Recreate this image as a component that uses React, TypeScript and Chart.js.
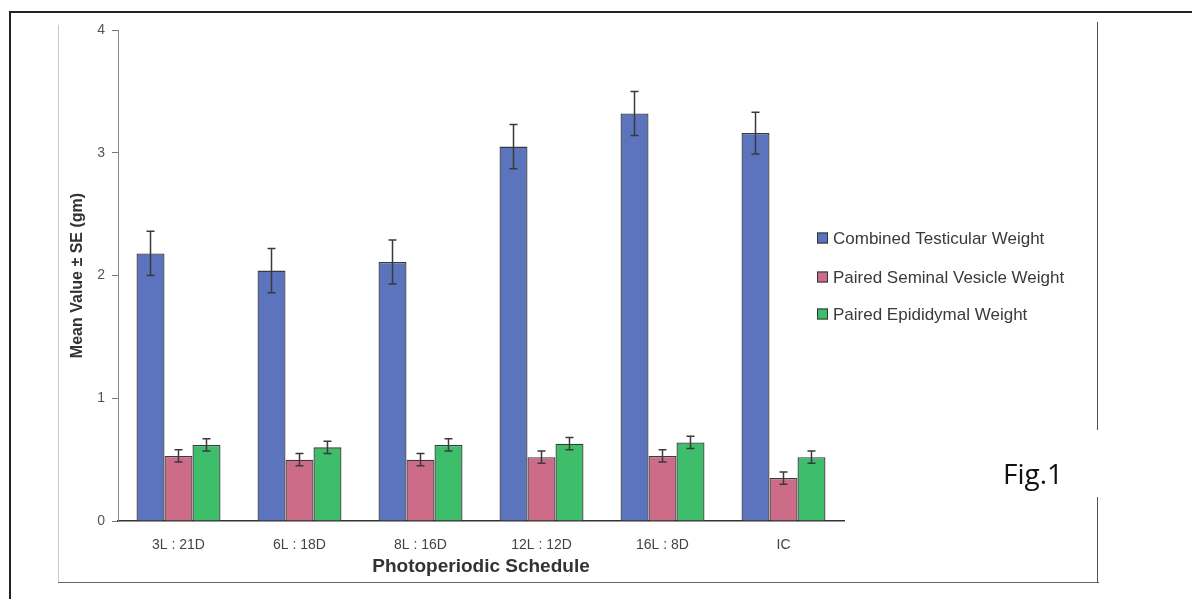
import React, { useEffect, useRef } from "react";
import { Chart, registerables } from "chart.js";

Chart.register(...registerables);

// Photoperiod regimes (hours light : hours dark) and intact controls
const schedules = ["3L : 21D", "6L : 18D", "8L : 16D", "12L : 12D", "16L : 8D", "IC"];

// Mean organ weights (gm) and their standard errors
const testicularWeight = [2.18, 2.04, 2.11, 3.05, 3.32, 3.16];
const testicularSE = [0.18, 0.18, 0.18, 0.18, 0.18, 0.17];
const seminalVesicleWeight = [0.53, 0.5, 0.5, 0.52, 0.53, 0.35];
const seminalVesicleSE = [0.05, 0.05, 0.05, 0.05, 0.05, 0.05];
const epididymalWeight = [0.62, 0.6, 0.62, 0.63, 0.64, 0.52];
const epididymalSE = [0.05, 0.05, 0.05, 0.05, 0.05, 0.05];

const yTicks = [0, 1, 2, 3, 4];

const seriesNames = [
  "Combined Testicular Weight",
  "Paired Seminal Vesicle Weight",
  "Paired Epididymal Weight",
];
const seriesColors = ["#5b74bd", "#cd6c89", "#3ebd6b"];
const seriesErrors = [testicularSE, seminalVesicleSE, epididymalSE];

const SANS = '"Liberation Sans", Arial, sans-serif';

// Draws ± SE whiskers on every bar, positioned through the y scale
const errorBarPlugin = {
  id: "errorBars",
  afterDatasetsDraw(chart: any) {
    const { ctx } = chart;
    const yScale = chart.scales.y;
    ctx.save();
    ctx.strokeStyle = "#3a3a3a";
    ctx.lineWidth = 1.5;
    chart.data.datasets.forEach((ds: any, di: number) => {
      const meta = chart.getDatasetMeta(di);
      const errs = seriesErrors[di];
      meta.data.forEach((bar: any, i: number) => {
        const v = ds.data[i];
        const e = errs[i];
        const yTop = yScale.getPixelForValue(v + e);
        const yBot = yScale.getPixelForValue(v - e);
        const x = bar.x;
        const cap = 4;
        ctx.beginPath();
        ctx.moveTo(x, yTop);
        ctx.lineTo(x, yBot);
        ctx.moveTo(x - cap, yTop);
        ctx.lineTo(x + cap, yTop);
        ctx.moveTo(x - cap, yBot);
        ctx.lineTo(x + cap, yBot);
        ctx.stroke();
      });
    });
    ctx.restore();
  },
};

// Legend block to the right of the bars
const sideLegendPlugin = {
  id: "sideLegend",
  afterDraw(chart: any) {
    const { ctx } = chart;
    const rows = [238, 277, 314];
    ctx.save();
    ctx.font = `17px ${SANS}`;
    ctx.textBaseline = "middle";
    ctx.textAlign = "left";
    chart.data.datasets.forEach((ds: any, i: number) => {
      const y = rows[i];
      ctx.fillStyle = ds.backgroundColor;
      ctx.fillRect(817, y - 5.5, 11, 11);
      ctx.strokeStyle = "#333";
      ctx.lineWidth = 1;
      ctx.strokeRect(817.5, y - 5, 10, 10);
      ctx.fillStyle = "#3a3a3a";
      ctx.fillText(ds.label, 833, y + 1);
    });
    ctx.restore();
  },
};

export default function App() {
  const canvasRef = useRef<HTMLCanvasElement | null>(null);

  useEffect(() => {
    if (!canvasRef.current) return;
    const chart = new Chart(canvasRef.current, {
      type: "bar",
      data: {
        labels: schedules,
        datasets: [testicularWeight, seminalVesicleWeight, epididymalWeight].map((d, i) => ({
          label: seriesNames[i],
          data: d,
          backgroundColor: seriesColors[i],
          borderColor: "#3a3a3a",
          borderWidth: 1.3,
          categoryPercentage: 0.694,
          barPercentage: 1.0,
        })),
      },
      options: {
        responsive: false,
        animation: false,
        layout: { padding: { left: 60, right: 348, top: 30, bottom: 20 } },
        plugins: {
          legend: { display: false },
          tooltip: { enabled: false },
        },
        scales: {
          x: {
            afterFit(scale: any) {
              scale.height = 58;
            },
            grid: { display: false, drawTicks: false },
            border: { display: true, color: "#333", width: 1.5 },
            ticks: {
              padding: 16,
              color: "#444",
              font: { family: SANS, size: 14 },
            },
            title: {
              display: true,
              text: "Photoperiodic Schedule",
              color: "#333",
              font: { family: SANS, size: 19, weight: "bold" },
              padding: { top: 0, bottom: 1 },
            },
          },
          y: {
            min: yTicks[0],
            max: yTicks[yTicks.length - 1],
            afterFit(scale: any) {
              scale.width = 58;
            },
            afterBuildTicks(scale: any) {
              scale.ticks = yTicks.map((v) => ({ value: v }));
            },
            grid: {
              drawOnChartArea: false,
              drawTicks: true,
              tickLength: 6,
              color: "#777",
            },
            border: { display: true, color: "#888", width: 1 },
            ticks: {
              padding: 7,
              color: "#555",
              font: { family: SANS, size: 14 },
            },
            title: {
              display: true,
              text: "Mean Value ± SE (gm)",
              color: "#333",
              font: { family: SANS, size: 16, weight: "bold" },
              padding: { top: 8, bottom: 0 },
            },
          },
        },
      },
      plugins: [errorBarPlugin, sideLegendPlugin],
    });
    return () => chart.destroy();
  }, []);

  return (
    <div
      style={{
        position: "fixed",
        left: 0,
        top: 0,
        width: 1192,
        height: 599,
        background: "#fff",
        overflow: "hidden",
      }}
    >
      {/* document cell frame */}
      <div style={{ position: "absolute", left: 9, top: 11, width: 1183, height: 2, background: "#222" }} />
      <div style={{ position: "absolute", left: 9, top: 11, width: 2, height: 588, background: "#222" }} />
      {/* figure frame */}
      <div style={{ position: "absolute", left: 58, top: 25, width: 1, height: 557, background: "#c8c8c8" }} />
      <div style={{ position: "absolute", left: 58, top: 582, width: 1041, height: 1, background: "#666" }} />
      <div style={{ position: "absolute", left: 1097, top: 22, width: 1, height: 408, background: "#555" }} />
      <div style={{ position: "absolute", left: 1097, top: 497, width: 1, height: 86, background: "#555" }} />
      <canvas ref={canvasRef} width={1192} height={599} style={{ position: "absolute", left: 0, top: 0 }} />
      <div
        style={{
          position: "absolute",
          left: 1003,
          top: 455,
          fontFamily: '"Open Sans", sans-serif',
          fontSize: 28,
          color: "#111",
          lineHeight: "36px",
        }}
      >
        Fig.1
      </div>
    </div>
  );
}
